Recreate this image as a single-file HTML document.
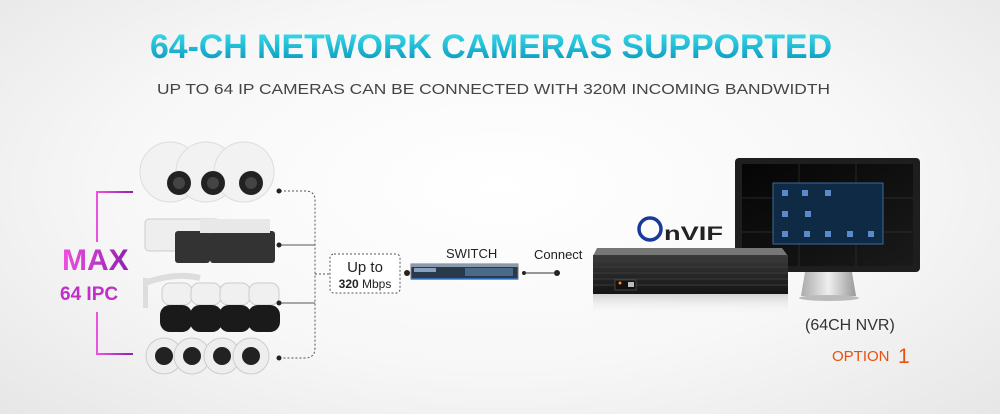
<!DOCTYPE html>
<html><head><meta charset="utf-8"><style>
html,body{margin:0;padding:0;width:1000px;height:414px;overflow:hidden}
body{background:radial-gradient(ellipse 70% 80% at 50% 45%,#ffffff 0%,#f7f7f7 55%,#e6e6e6 100%)}
svg{display:block}
text{font-family:"Liberation Sans",sans-serif}
</style></head><body>
<svg width="1000" height="414" viewBox="0 0 1000 414" xmlns="http://www.w3.org/2000/svg">
<defs>
<linearGradient id="tg" x1="0" y1="0" x2="0" y2="1"><stop offset="0" stop-color="#3fe3f0"/><stop offset="1" stop-color="#0590b8"/></linearGradient>
<linearGradient id="pg" x1="0" y1="0" x2="1" y2="0"><stop offset="0" stop-color="#f050e0"/><stop offset="1" stop-color="#9020b0"/></linearGradient>
<linearGradient id="nvr" x1="0" y1="0" x2="0" y2="1"><stop offset="0" stop-color="#3a3a3a"/><stop offset="1" stop-color="#151515"/></linearGradient>
<linearGradient id="scr" x1="0" y1="0" x2="1" y2="1"><stop offset="0" stop-color="#050505"/><stop offset="1" stop-color="#1a1a1a"/></linearGradient>
<linearGradient id="refl" x1="0" y1="0" x2="0" y2="1"><stop offset="0" stop-color="#bbb" stop-opacity="0.6"/><stop offset="1" stop-color="#fff" stop-opacity="0"/></linearGradient>
<linearGradient id="stand" x1="0" y1="0" x2="1" y2="0"><stop offset="0" stop-color="#aaa"/><stop offset="0.5" stop-color="#eee"/><stop offset="1" stop-color="#999"/></linearGradient>
</defs>
<text x="150" y="58" font-size="34" font-weight="bold" fill="url(#tg)" textLength="682" lengthAdjust="spacingAndGlyphs">64-CH NETWORK CAMERAS SUPPORTED</text>
<text x="157" y="94" font-size="15" fill="#444" textLength="673" lengthAdjust="spacingAndGlyphs">UP TO 64 IP CAMERAS CAN BE CONNECTED WITH 320M INCOMING BANDWIDTH</text>

<path d="M133 192 H97 V242 M97 312 V354 H133" stroke="url(#pg)" stroke-width="2" fill="none"/>
<text x="62" y="270" font-size="30" font-weight="bold" fill="url(#pg)">MAX</text>
<text x="60" y="300" font-size="19" font-weight="bold" fill="#c030c8">64 IPC</text>

<g>
<ellipse cx="170" cy="172" rx="30" ry="30" fill="#f2f2f2" stroke="#ddd"/>
<ellipse cx="206" cy="172" rx="30" ry="30" fill="#f2f2f2" stroke="#ddd"/>
<ellipse cx="244" cy="172" rx="30" ry="30" fill="#f2f2f2" stroke="#ddd"/>
<circle cx="179" cy="183" r="12" fill="#222"/><circle cx="179" cy="183" r="6" fill="#444"/>
<circle cx="213" cy="183" r="12" fill="#222"/><circle cx="213" cy="183" r="6" fill="#444"/>
<circle cx="251" cy="183" r="12" fill="#222"/><circle cx="251" cy="183" r="6" fill="#444"/>
</g>
<g>
<rect x="145" y="219" width="75" height="32" rx="4" fill="#eee" stroke="#ccc"/>
<rect x="175" y="231" width="35" height="32" rx="3" fill="#333"/>
<rect x="210" y="231" width="35" height="32" rx="3" fill="#333"/>
<rect x="240" y="231" width="35" height="32" rx="3" fill="#333"/>
<rect x="200" y="219" width="70" height="14" fill="#e8e8e8"/>
</g>
<g>
<path d="M145 283 Q175 272 200 278" stroke="#ddd" stroke-width="6" fill="none"/>
<rect x="143" y="278" width="5" height="30" fill="#ddd"/>
<rect x="162" y="283" width="30" height="22" rx="8" fill="#f0f0f0" stroke="#ccc"/>
<rect x="191" y="283" width="30" height="22" rx="8" fill="#f0f0f0" stroke="#ccc"/>
<rect x="220" y="283" width="30" height="22" rx="8" fill="#f0f0f0" stroke="#ccc"/>
<rect x="249" y="283" width="30" height="22" rx="8" fill="#f0f0f0" stroke="#ccc"/>
<rect x="160" y="305" width="32" height="27" rx="10" fill="#1a1a1a"/>
<rect x="190" y="305" width="32" height="27" rx="10" fill="#1a1a1a"/>
<rect x="219" y="305" width="32" height="27" rx="10" fill="#1a1a1a"/>
<rect x="248" y="305" width="32" height="27" rx="10" fill="#1a1a1a"/>
</g>
<g>
<circle cx="164" cy="356" r="18" fill="#eee" stroke="#ccc"/><circle cx="192" cy="356" r="18" fill="#eee" stroke="#ccc"/>
<circle cx="222" cy="356" r="18" fill="#eee" stroke="#ccc"/><circle cx="251" cy="356" r="18" fill="#eee" stroke="#ccc"/>
<circle cx="164" cy="356" r="9" fill="#222"/><circle cx="192" cy="356" r="9" fill="#222"/>
<circle cx="222" cy="356" r="9" fill="#222"/><circle cx="251" cy="356" r="9" fill="#222"/>
</g>

<g stroke="#555" stroke-width="1" fill="none">
<path d="M280 191 H305 Q315 191 315 200 V348 Q315 358 305 358 H280" stroke-dasharray="2,2"/>
<path d="M280 245 H315 M280 303 H315"/>
<path d="M315 274 H330" stroke-dasharray="2,2"/>
</g>
<g fill="#222"><circle cx="279" cy="191" r="2.5"/><circle cx="279" cy="245" r="2.5"/><circle cx="279" cy="303" r="2.5"/><circle cx="279" cy="358" r="2.5"/>
<circle cx="407" cy="273" r="3"/><circle cx="524" cy="273" r="2"/><circle cx="557" cy="273" r="3"/></g>
<rect x="330" y="254" width="70" height="39" rx="4" fill="#fff" stroke="#555" stroke-dasharray="2,2"/>
<text x="365" y="272" font-size="15" fill="#222" text-anchor="middle">Up to</text>
<text x="365" y="288" font-size="12" fill="#222" text-anchor="middle"><tspan font-weight="bold">320</tspan> Mbps</text>
<line x1="524" y1="273" x2="557" y2="273" stroke="#333"/>

<rect x="411" y="264" width="107" height="15" fill="#2a3a4a" stroke="#777"/>
<rect x="411" y="264" width="107" height="3" fill="#8a9aaa"/>
<rect x="414" y="268" width="22" height="4" fill="#8aa0c0"/>
<rect x="465" y="268" width="48" height="8" fill="#4a6a8a"/>
<line x1="411" y1="279" x2="518" y2="279" stroke="#3080e0" stroke-width="1.5"/>
<text x="446" y="258" font-size="13" fill="#222">SWITCH</text>
<text x="534" y="259" font-size="13" fill="#222">Connect</text>

<!-- monitor -->
<rect x="735" y="158" width="185" height="114" rx="4" fill="#1e1e1e"/>
<rect x="742" y="164" width="171" height="102" fill="url(#scr)"/>
<g stroke="#333" stroke-width="0.7"><line x1="799" y1="164" x2="799" y2="266"/><line x1="856" y1="164" x2="856" y2="266"/><line x1="742" y1="198" x2="913" y2="198"/><line x1="742" y1="232" x2="913" y2="232"/></g>
<rect x="773" y="183" width="110" height="61" fill="#0e2a45" stroke="#3a6a9a"/>
<g fill="#5a8acc"><rect x="782" y="190" width="6" height="6"/><rect x="802" y="190" width="6" height="6"/><rect x="825" y="190" width="6" height="6"/><rect x="782" y="211" width="6" height="6"/><rect x="805" y="211" width="6" height="6"/><rect x="782" y="231" width="6" height="6"/><rect x="804" y="231" width="6" height="6"/><rect x="825" y="231" width="6" height="6"/><rect x="847" y="231" width="6" height="6"/><rect x="868" y="231" width="6" height="6"/></g>
<path d="M805 272 H852 L856 296 H801 Z" fill="url(#stand)"/>
<ellipse cx="829" cy="298" rx="30" ry="3" fill="#bbb"/>

<!-- NVR -->
<path d="M597 248 L782 248 L788 256 L593 256 Z" fill="#777"/>
<rect x="593" y="255" width="195" height="39" fill="url(#nvr)"/>
<g stroke="#3a3a3a" stroke-width="1"><line x1="593" y1="261" x2="788" y2="261"/><line x1="593" y1="267" x2="788" y2="267"/><line x1="593" y1="273" x2="788" y2="273"/><line x1="593" y1="279" x2="788" y2="279"/><line x1="593" y1="285" x2="788" y2="285"/></g>
<rect x="615" y="280" width="21" height="10" fill="#111" stroke="#444"/>
<circle cx="620" cy="283" r="1.5" fill="#f80"/>
<rect x="628" y="282" width="6" height="5" fill="#bbb"/>
<rect x="593" y="294" width="195" height="22" fill="url(#refl)"/>

<!-- Onvif -->
<ellipse cx="650" cy="229" rx="11" ry="11" fill="none" stroke="#1a3a9a" stroke-width="3.5"/>
<text x="664" y="240" font-size="19" font-weight="bold" fill="#222" textLength="59" lengthAdjust="spacingAndGlyphs">nVIF</text>

<text x="805" y="330" font-size="16" fill="#333">(64CH NVR)</text>
<text x="832" y="361" font-size="15" fill="#e85010">OPTION</text>
<text x="898" y="363" font-size="21" fill="#e85010">1</text>
</svg>
</body></html>
